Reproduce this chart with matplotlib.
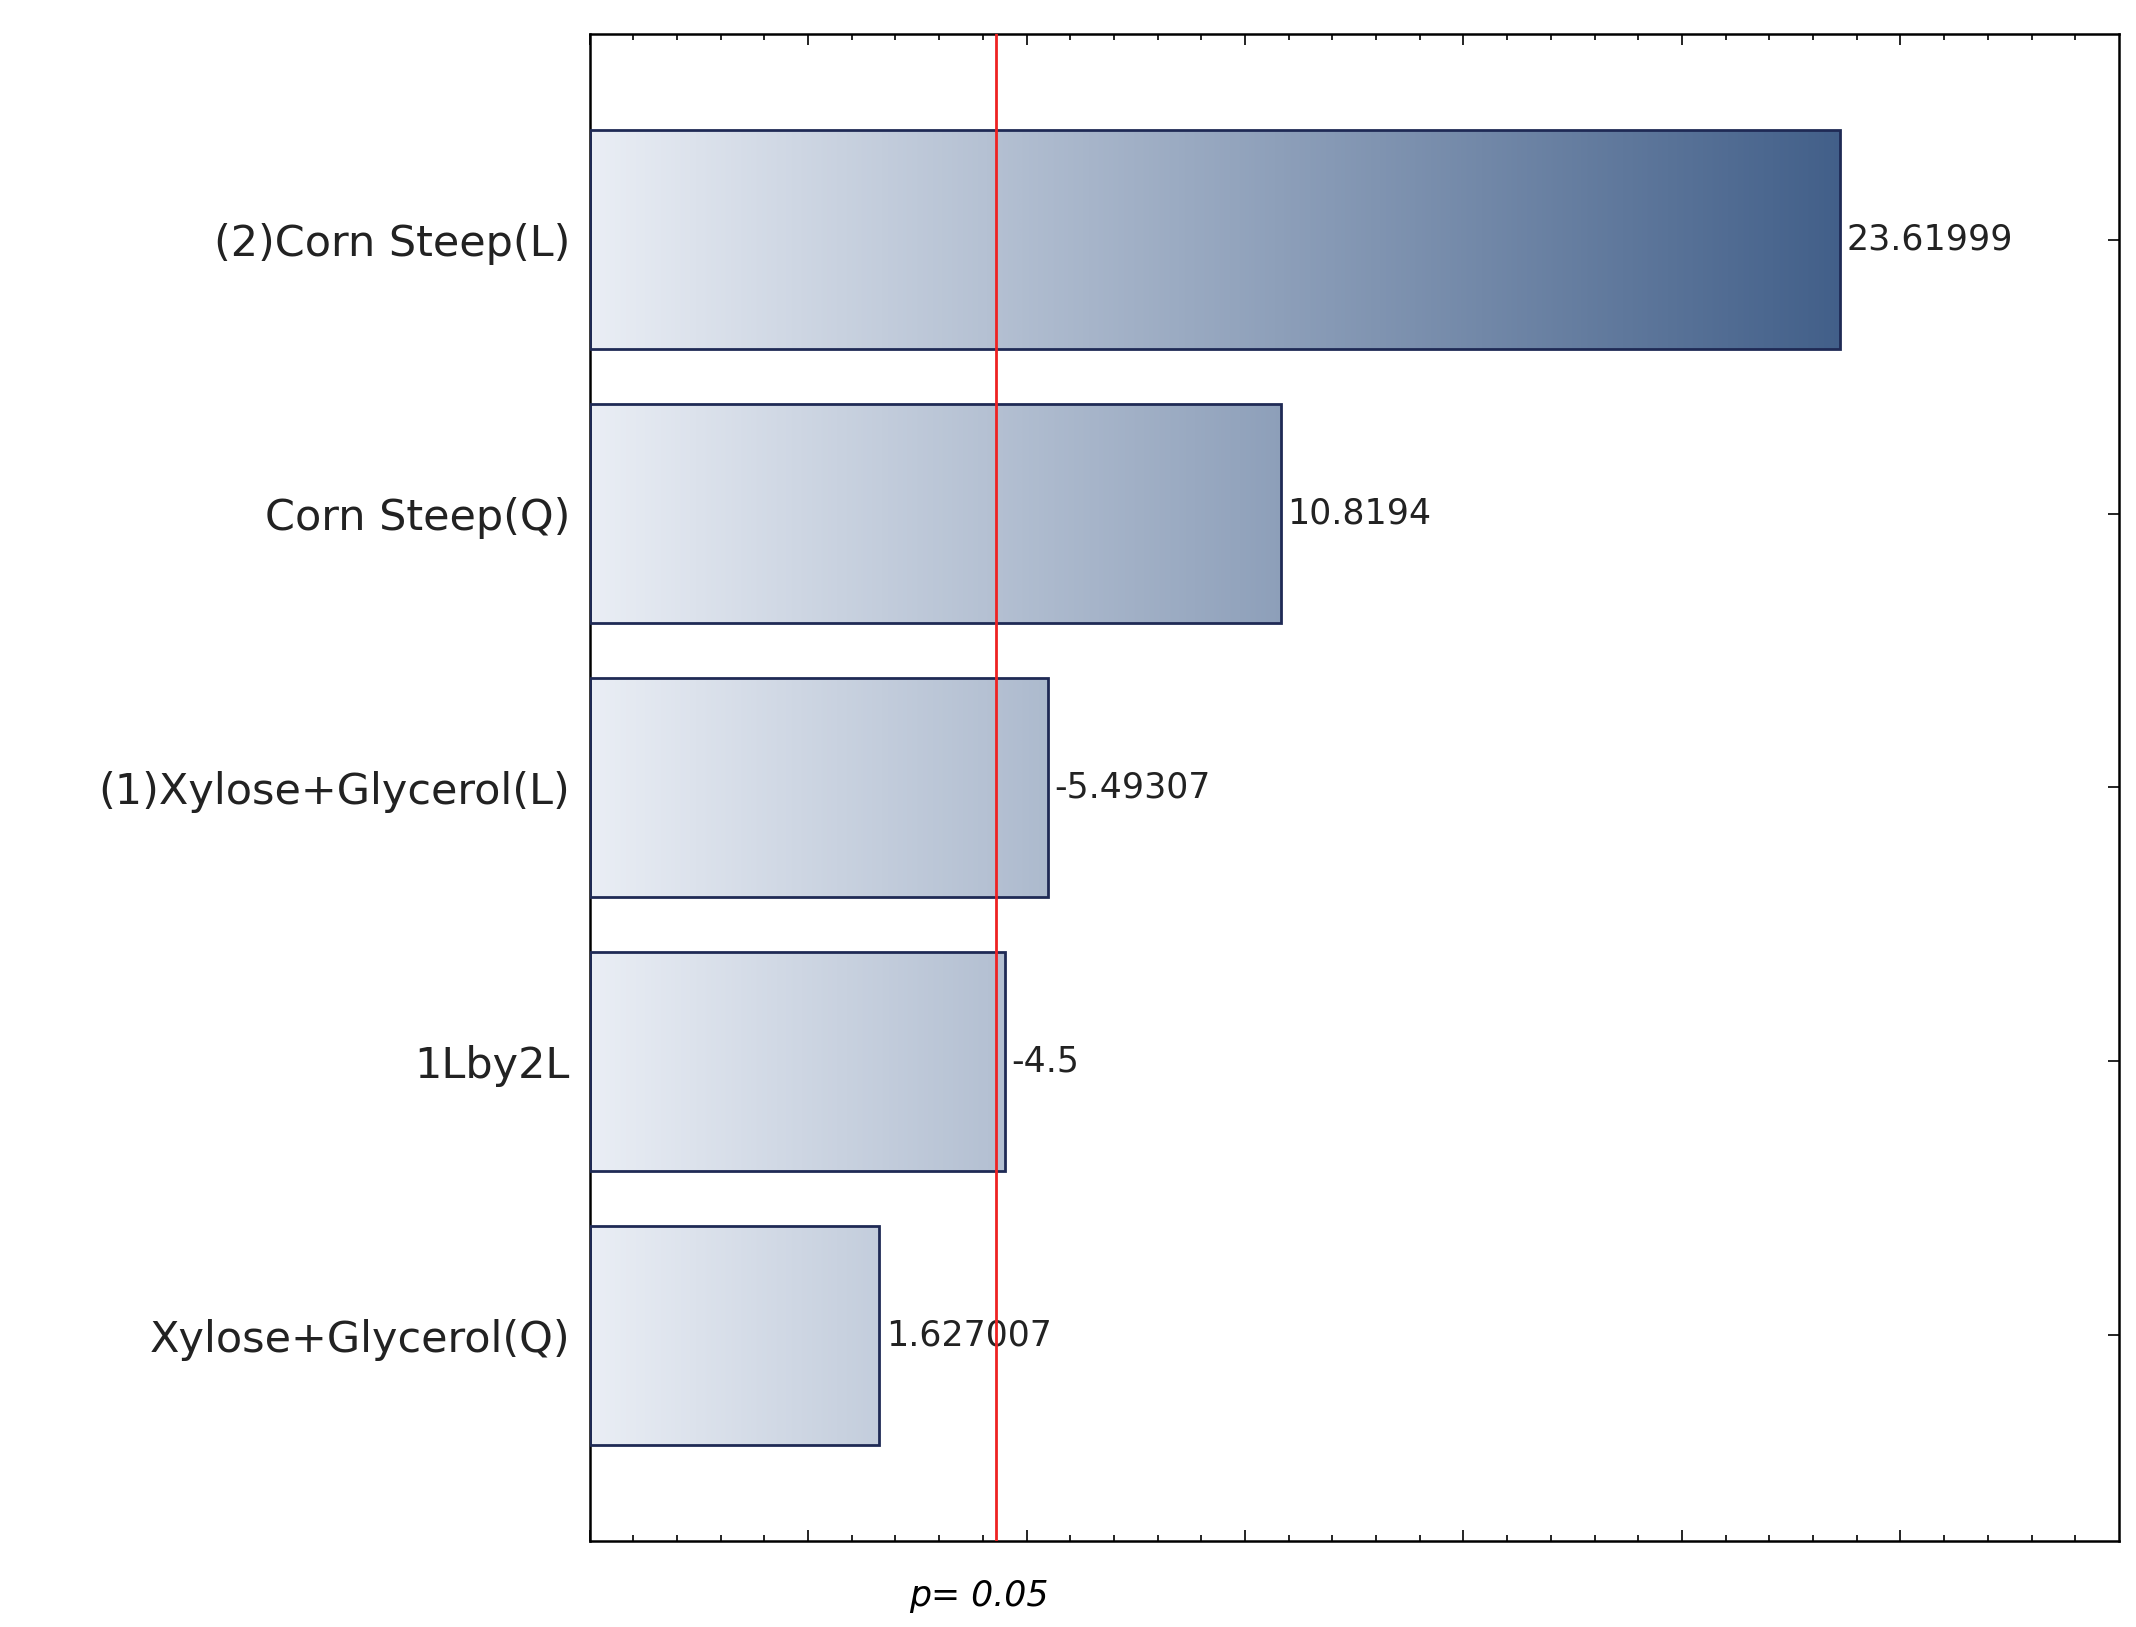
import matplotlib
matplotlib.use("Agg")
import matplotlib.pyplot as plt
import numpy as np
from matplotlib.colors import LinearSegmentedColormap
from matplotlib.patches import Rectangle

categories = ["(2)Corn Steep(L)", "Corn Steep(Q)", "(1)Xylose+Glycerol(L)", "1Lby2L", "Xylose+Glycerol(Q)"]
values = [23.61999, 10.8194, 5.49307, 4.5, 1.627007]
labels = ["23.61999", "10.8194", "-5.49307", "-4.5", "1.627007"]
p_line = 4.3
x0, x1 = -5, 30

fig = plt.figure(figsize=(21.36, 16.27), dpi=100)
ax = fig.add_axes([0.276, 0.053, 0.716, 0.926])
ax.set_xlim(x0, x1)
ax.set_ylim(4.75, -0.75)

cmap = LinearSegmentedColormap.from_list("g", ["#eaeef5", "#3d5b86"])
grad = np.linspace(0, 1, 512).reshape(1, -1)
for i, v in enumerate(values):
    rect = Rectangle((x0, i - 0.4), v - x0, 0.8, facecolor="none", edgecolor="#1f2a55", lw=2, zorder=3)
    ax.add_patch(rect)
    im = ax.imshow(grad, cmap=cmap, extent=[x0, 24.5, i - 0.4, i + 0.4], aspect="auto", zorder=2)
    im.set_clip_path(rect)
    ax.text(v + 0.15, i, labels[i], va="center", ha="left", fontsize=25, color="#222222", zorder=4)

ax.set_xlim(x0, x1)
ax.set_ylim(4.75, -0.75)
ax.axvline(p_line, color="#ee2222", lw=2, zorder=5)

ax.set_yticks(range(len(categories)))
ax.set_yticklabels(categories, fontsize=31, color="#222222")
ax.set_xticks(np.arange(-5, 30, 5))
ax.set_xticks(np.arange(-5, 30, 1), minor=True)
ax.set_xticklabels([])
ax.tick_params(axis="x", which="both", direction="in", top=True, bottom=True, length=8, width=1.2)
ax.tick_params(axis="x", which="minor", length=4)
ax.tick_params(axis="y", direction="in", right=True, left=True, length=8, width=1.2, pad=14)
for s in ax.spines.values():
    s.set_linewidth(1.8)
ax.text(p_line - 0.4, 4.95, "p= 0.05", style="italic", fontsize=25, ha="center", va="center", family="DejaVu Sans")
fig.savefig("out.png", dpi=100)
